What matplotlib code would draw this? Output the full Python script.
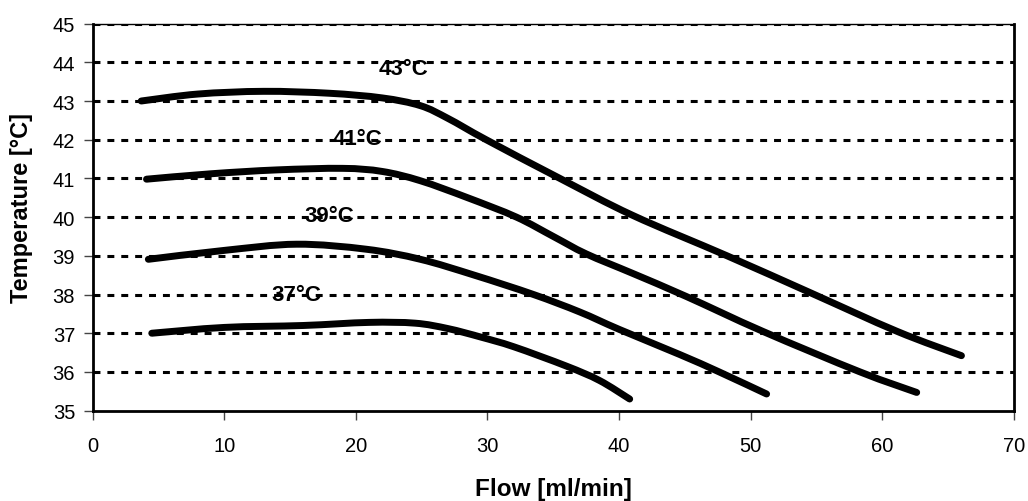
import matplotlib
matplotlib.use("Agg")
import matplotlib.pyplot as plt
import numpy as np
from matplotlib.path import Path
from matplotlib.patches import PathPatch

plt.rcParams['font.family'] = ['Liberation Sans', 'DejaVu Sans']
plt.rcParams['lines.scale_dashes'] = False

# curves: flow [ml/min] -> temperature [C]
flow_43 = [3.7, 8, 13, 18, 22, 24.9, 27, 29.9, 35.5, 41.0, 48.2, 54.5, 61.1, 66]
temp_43 = [43.0, 43.18, 43.25, 43.2, 43.08, 42.88, 42.55, 42.0, 41.0, 40.05, 39.0, 38.05, 37.05, 36.42]

flow_41 = [4.1, 9, 14, 19, 22, 24.9, 28.5, 32.2, 35, 37.5, 41, 45.1, 50.9, 58.3, 62.6]
temp_41 = [40.98, 41.12, 41.22, 41.26, 41.18, 40.94, 40.5, 40.0, 39.5, 39.05, 38.55, 37.95, 37.05, 36.0, 35.47]

flow_39 = [4.24, 10, 15.5, 20.8, 24.9, 29, 33.5, 37, 40, 44.6, 47.6, 51.2]
temp_39 = [38.91, 39.14, 39.3, 39.17, 38.91, 38.5, 38.0, 37.55, 37.1, 36.45, 36.0, 35.43]

flow_37 = [4.5, 10, 16, 21, 24.5, 27, 29.5, 32, 36, 38.5, 40.8]
temp_37 = [37.0, 37.15, 37.2, 37.28, 37.26, 37.12, 36.9, 36.65, 36.15, 35.78, 35.3]

label_text = ['43°C', '41°C', '39°C', '37°C']
label_x = [23.6, 20.1, 18.0, 15.5]
label_y = [43.83, 42.02, 40.03, 38.0]


def smooth_path(xs, ys):
    # Excel style smoothed line: Catmull-Rom segments as cubic beziers
    p = np.column_stack([xs, ys])
    verts = [p[0]]
    codes = [Path.MOVETO]
    n = len(p)
    for i in range(n - 1):
        p0 = p[i - 1] if i > 0 else p[i]
        p3 = p[i + 2] if i + 2 < n else p[i + 1]
        c1 = p[i] + (p[i + 1] - p0) / 6
        c2 = p[i + 1] - (p3 - p[i]) / 6
        verts += [c1, c2, p[i + 1]]
        codes += [Path.CURVE4] * 3
    return Path(verts, codes)


fig = plt.figure(figsize=(10.28, 5.02), dpi=100)
ax = fig.add_axes([0.09, 0.18, 0.8965, 0.771])

for yv in range(36, 46):
    ax.axhline(yv, color='black', lw=2.2, ls=(0, (5, 5)), zorder=1)

for xs, ys in [(flow_43, temp_43), (flow_41, temp_41), (flow_39, temp_39), (flow_37, temp_37)]:
    patch = PathPatch(smooth_path(xs, ys), fill=False, edgecolor='black', lw=5,
                      capstyle='round', joinstyle='round', zorder=3)
    ax.add_patch(patch)

for t, x, y in zip(label_text, label_x, label_y):
    ax.text(x, y, t, ha='center', va='center', fontsize=16, fontweight='bold', zorder=2)

ax.set_xlim(0, 70)
ax.set_ylim(35, 45)
ax.set_xticks(range(0, 71, 10))
ax.set_yticks(range(35, 46))
ax.tick_params(axis='both', labelsize=14.5, length=6.5, width=1, color='#444444')
ax.tick_params(axis='y', pad=6)
ax.tick_params(axis='x', pad=12)

ax.spines['top'].set_linewidth(1)
for s in ['left', 'bottom', 'right']:
    ax.spines[s].set_linewidth(2)

ax.set_xlabel('Flow [ml/min]', fontsize=17.5, fontweight='bold')
ax.set_ylabel('Temperature [°C]', fontsize=17, fontweight='bold')
ax.xaxis.set_label_coords(0.5, -0.172)
ax.yaxis.set_label_coords(-0.0646, 0.527)

fig.savefig('out.png', dpi=100)
